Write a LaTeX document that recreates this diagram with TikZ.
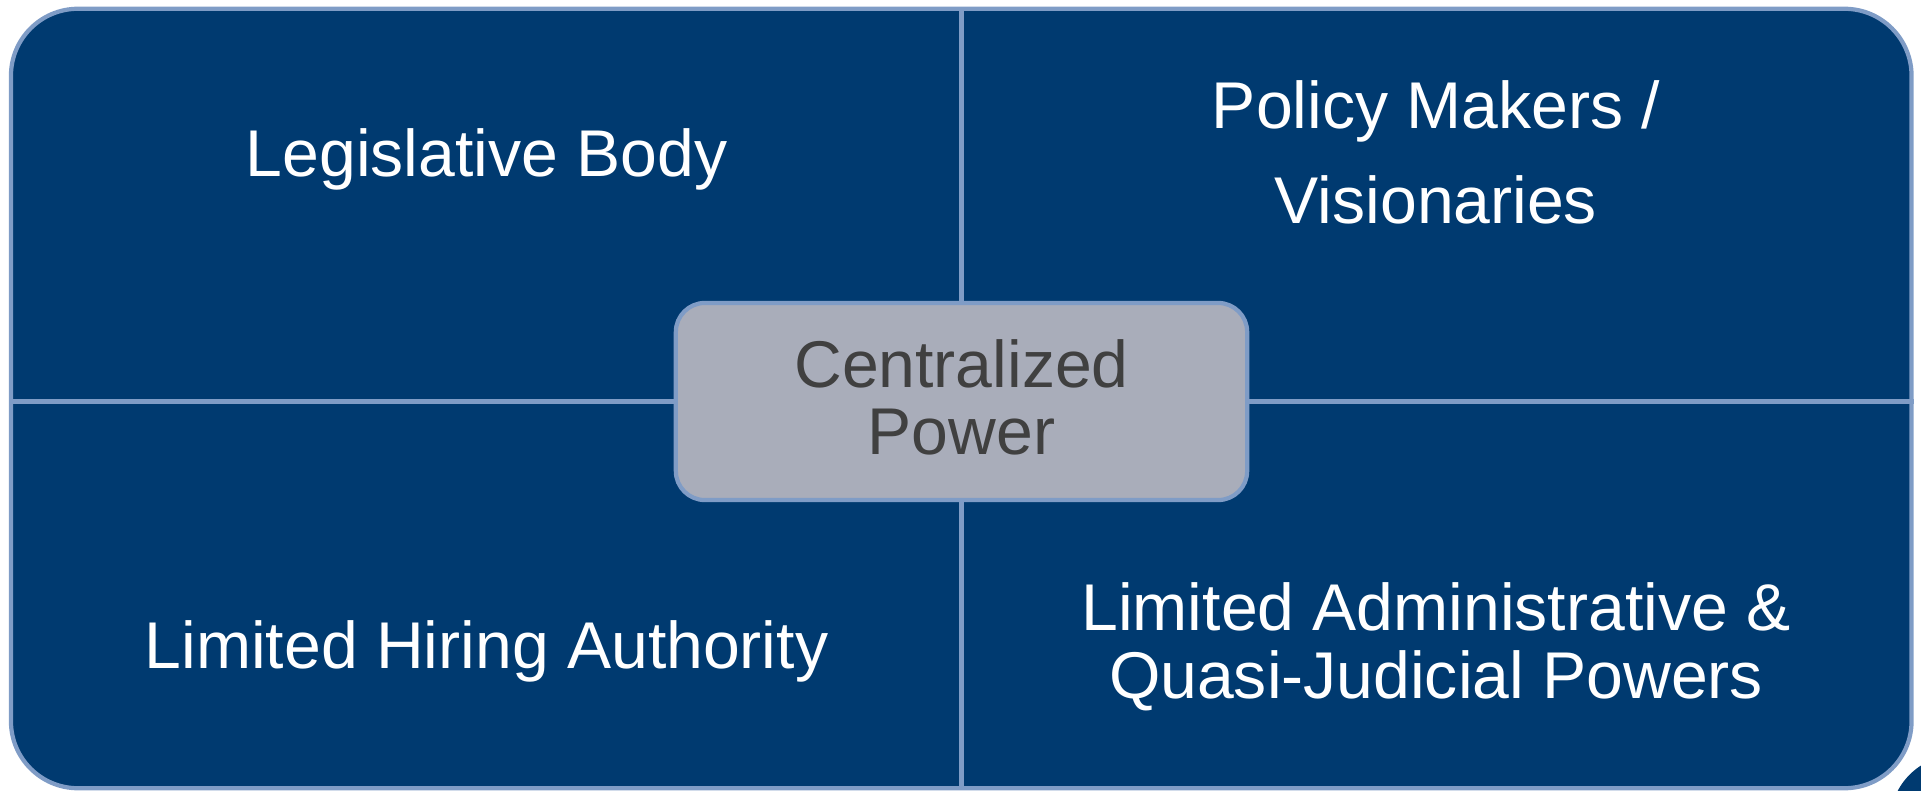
\documentclass[tikz,border=0pt]{standalone}
\usepackage{fontspec}
\setmainfont{Liberation Sans}

\definecolor{navy}{HTML}{003A70}
\definecolor{rim}{HTML}{7F9CC6}
\definecolor{hubgray}{HTML}{A9ADBA}
\definecolor{hubtext}{HTML}{404040}

\def\framew{18.995cm}
\def\frameh{7.79cm}
\def\hubw{5.71cm}
\def\hubh{1.97cm}

\begin{document}
\begin{tikzpicture}[x=0.01cm, y=-0.01cm,
    frame/.style={draw=rim, fill=navy, line width=1.2pt, rounded corners=0.67cm,
      minimum width=\framew, minimum height=\frameh, inner sep=0pt},
    hub/.style={draw=rim, fill=hubgray, line width=1.2pt, rounded corners=0.29cm,
      minimum width=\hubw, minimum height=\hubh, inner sep=0pt, text=hubtext,
      align=center, font=\fontsize{18.8pt}{19.07pt}\selectfont},
    quadtext/.style={text=white, align=center, inner sep=0pt, anchor=base,
      font=\fontsize{18.8pt}{19.07pt}\selectfont},
    divider/.style={draw=rim, line width=1.3pt}]
    \useasboundingbox (0,0) rectangle (1921,791);
    \clip (0,0) rectangle (1921,791);
    % corner of the shape behind
    \fill[navy, rounded corners=0.67cm] (1890,755) rectangle (2200,1000);
    \node[frame] (frame) at (961.25,398.5) {};
    \node[hub] (power) at (961.5,401.5) {Centralized\\Power\rule[-0.08cm]{0pt}{0pt}};
    \draw[divider] (power.north) -- (power.north |- frame.north);
    \draw[divider] (power.south) -- (power.south |- frame.south);
    \draw[divider] (power.west) -- (power.west -| frame.west);
    \draw[divider] (power.east) -- (power.east -| frame.east);
    % last line sits on the given baseline
    \foreach \name/\x/\y/\txt in {q1/486.5/176/{Legislative Body},
        q3/486.5/668/{Limited Hiring Authority},
        q4/1436/698/{Limited Administrative \&\\Quasi-Judicial Powers}} {
      \node[quadtext] (\name) at (\x,\y) {\txt};
    }
    \node[quadtext, font=\fontsize{18.8pt}{27pt}\selectfont] (q2) at (1436,223)
      {Policy Makers /\\Visionaries};
\end{tikzpicture}
\end{document}
